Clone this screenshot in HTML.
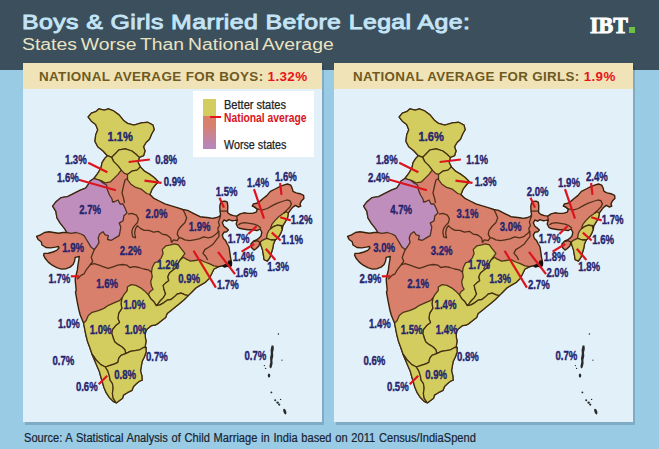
<!DOCTYPE html>
<html><head><meta charset="utf-8">
<style>
html,body{margin:0;padding:0;}
body{width:659px;height:449px;overflow:hidden;background:#9acbe5;font-family:"Liberation Sans",sans-serif;position:relative;}
.hdr{position:absolute;left:0;top:0;width:659px;height:70.3px;background:#3b4f5c;}
.t1{position:absolute;left:21.8px;top:9px;font-size:21px;font-weight:normal;-webkit-text-stroke:0.9px #c4e4f6;color:#c4e4f6;white-space:nowrap;line-height:26px;transform-origin:0 0;transform:scaleX(1.184);letter-spacing:0.35px;}
.t2{position:absolute;left:22.4px;top:35px;font-size:16px;color:#ebe2c2;white-space:nowrap;line-height:20px;transform-origin:0 0;transform:scaleX(1.21);word-spacing:-1.2px;}
.logo{position:absolute;left:590.3px;top:13px;font-family:"Liberation Serif",serif;font-weight:bold;font-size:22.5px;color:#fff;line-height:26px;white-space:nowrap;transform-origin:0 0;-webkit-text-stroke:1px #fff;transform:scaleX(0.975);}
.dot{position:absolute;left:629px;top:27.4px;width:6px;height:5.4px;background:#6fbf44;}
.panel{position:absolute;top:63px;width:299px;height:359px;background:#e2f0fa;box-shadow:2px 3px 0 0 rgba(0,20,40,0.17);}
.ph{position:absolute;left:0;top:0;width:299px;height:25.8px;background:#efe3b7;}
.ph span{position:absolute;top:5px;font-size:13.5px;letter-spacing:0.36px;font-weight:bold;color:#6f5a1f;white-space:nowrap;line-height:18px;transform-origin:0 0;}
.ph b{color:#e8141c;}
.src{position:absolute;left:23.8px;top:429.6px;font-size:12px;color:#18232f;-webkit-text-stroke:0.2px #18232f;white-space:nowrap;line-height:16px;transform-origin:0 0;transform:scaleX(0.925);word-spacing:0.7px;}
.legend{position:absolute;left:193px;top:91px;width:121px;height:66px;background:#fff;}
.bar{position:absolute;left:202.5px;top:98.5px;width:13px;height:50.5px;background:linear-gradient(to bottom,#d3cd5f 0,#d3cd5f 17px,#d9806d 17px,#d9806d 26px,#b886b7 46px,#b886b7 50.5px);}
.tick{position:absolute;left:210px;top:116px;width:11px;height:2px;background:#e8141c;}
.lg{position:absolute;left:224px;font-size:12px;line-height:14px;color:#222;white-space:nowrap;transform-origin:0 0;}
svg{position:absolute;left:0;top:0;}
svg text{font-family:"Liberation Sans",sans-serif;font-weight:bold;font-size:13px;fill:#26246e;stroke:#26246e;stroke-width:0.4px;}
.pt line{stroke:#dc141e;stroke-width:2.2;stroke-linecap:butt;}
</style></head><body>
<div class="hdr"></div>
<div class="t1" id="t1">Boys &amp; Girls Married Before Legal Age:</div>
<div class="t2" id="t2">States Worse Than National Average</div>
<div class="logo" id="logo">IBT</div><div class="dot"></div>
<div class="panel" style="left:23px"><div class="ph"><span id="h1" style="left:16.2px;transform:scaleX(0.995)">NATIONAL AVERAGE FOR BOYS: <b>1.32%</b></span></div></div>
<div class="panel" style="left:334px"><div class="ph"><span id="h2" style="left:18.5px;transform:scaleX(0.99)">NATIONAL AVERAGE FOR GIRLS: <b>1.9%</b></span></div></div>
<div class="legend"></div><div class="bar"></div><div class="tick"></div>
<div class="lg" id="lg1" style="top:97.6px;transform:scaleX(0.92);-webkit-text-stroke:0.25px #222">Better states</div>
<div class="lg" id="lg2" style="top:110.7px;color:#d8141c;font-weight:bold;transform:scaleX(0.86)">National average</div>
<div class="lg" id="lg3" style="top:137.5px;transform:scaleX(0.894);-webkit-text-stroke:0.25px #222">Worse states</div>
<svg width="659" height="449" viewBox="0 0 659 449">
<g>
<polygon points="94,178.5 97.8,173.3 101,168 102.1,162.7 104.8,158.4 107.4,155.7 103.1,151 97.8,146.7 95,141.4 95.7,135.1 97.8,129.7 95.7,124.4 91.4,121.2 88.2,117 91.4,113.2 95.7,111.7 98.9,108.9 104.2,110.2 108.4,108.9 113.7,111 119,114.9 123.3,120.2 127.5,123.4 133.9,125.1 141.4,122.9 147.7,122.3 153,125.1 154.1,129.7 151.6,134 149.4,139.3 146,142.5 143.5,146.7 145,151 143.5,155.7 139.2,157.4 138.2,162.7 140.3,166.9 144.5,171.2 149.9,174.4 154.1,177.5 158.3,181.8 155.2,185 152,189.2 149.9,194.5 153.5,198.1 159.2,201 164.9,203.8 170.6,205.7 177.2,207.6 182.9,209.5 187.6,210.4 193.3,213.3 199,216.1 200,216.7 204.5,217.3 208.9,217.8 212.2,218.4 215.6,217.8 218.9,216.7 220.6,215 220,211.1 219.8,206.1 220.6,202.8 222.3,201.5 225,201.1 227.3,202.2 227.8,206.1 227.6,211.1 227.8,212.8 230,214.5 233.4,215.6 236.7,216.1 240.1,213.9 244,212.8 247.9,213.4 252.3,213.4 256.2,212.2 257.3,209.5 255.1,207.2 252.3,206.1 253.4,203.9 256.8,203.3 260.1,201.1 263.4,198.3 266.8,195.6 270.4,191.4 275.1,189 279.7,186.7 283.6,185.1 287.5,184 290.7,185.1 292.2,188.3 293,191.4 296.1,192.9 300,193.7 303.6,195.3 303.9,198.4 301.6,200.7 300,203.9 300.8,206.2 298.5,207 295.3,205.4 292.2,207.8 289.9,210.9 288.3,213.2 287.5,217.9 285.2,221.8 282.9,225.7 282.1,229.8 280.5,233.7 278.2,237.6 275.1,240 273.5,243.9 272.7,248.5 271.2,253.2 269.6,257.9 267.3,261 264.1,259.5 263.4,254.8 262.6,250.1 261,245.4 260.2,242.3 258.7,246.2 256.3,248.5 254,250.1 251.7,247.8 250.9,243.9 253.2,241.5 256.3,240 258.7,238.4 261,236.1 261.8,232.2 260.2,229 257.1,230.6 252.4,229.8 247.8,229.8 243.1,229 239.2,228.3 237.8,227.3 236.2,223.9 237.3,220 235.1,220.4 232.3,220.8 228.9,219.7 226.7,221.2 223.9,220 222.3,222.8 223.9,226.2 226.7,228.4 228.4,230.1 226.7,231.7 223.9,232.3 222.3,235.1 223.4,238.4 225.6,240.6 227.3,244 229,247 229.8,252.4 230.6,257.9 231.4,261.8 230.6,265.7 224.4,266.5 225,265.1 218.6,266.7 213.9,269 211.6,273.7 209.2,278.4 205.3,282.3 199.9,285.4 196,287.8 192.1,291.7 188.2,295.6 184.3,299.5 179.6,303.4 174.9,307.3 171,310.4 167.1,313.5 165.6,317.4 161.7,320.5 157.8,323.6 155.4,325 151.4,325.6 147.5,328.7 145.2,331.8 145.2,336.5 146,341.2 145.2,346.6 146,347.5 146,352.2 144.4,356.8 142.1,361.5 141.3,366.2 140.5,370.9 141.8,375.6 142.1,380.2 139.7,381 136.6,383.4 133.5,386.5 131.9,390.4 127.3,392.7 123.4,395.1 122.6,398.2 119.5,400.5 116.3,402.9 113.2,401.3 109.3,397.4 106.2,392.7 103.9,387.3 102.3,381.8 100.7,376.3 99.2,370.9 96.8,365.4 94.5,360 92.2,354.5 89.8,347.5 87.5,341.2 85.9,335 83.6,323.2 80.2,315 78.7,309.2 77,300.7 75.5,292.2 76.2,290 75.6,284 75.2,279.3 76.2,274.6 77.4,269.9 77.7,266.8 78.5,261.8 79.3,256.5 75.2,257.4 74.6,260.9 73.1,264.5 70.1,267.1 66.2,268.7 61.5,269.1 56.8,267.6 52.2,265.2 48.3,262.1 45.1,258.2 43.6,255.1 44,253.4 48.3,253.2 52.9,252 56.8,250.3 59,248.1 58.4,246.5 55.3,247.1 50.6,247.9 45.9,247.5 42,245 41.2,241.8 38.1,239.5 36.6,236.4 40.5,234.8 44.4,232.5 49,231.7 53.7,232.5 58.4,233.3 63.1,232.5 67,232.5 64.4,228.4 60.2,223.1 57,217.8 55.9,211.4 52.7,206.1 55.9,201.9 61.2,197.6 67.6,196.6 74,193.4 80.4,190.2 85.7,188.1 88,184.9 90.1,181 94,178.5" fill="#d9806d" stroke="#38220a" stroke-width="1.4" stroke-linejoin="round"/>
<polygon points="88.2,117 91.4,113.2 95.7,111.7 98.9,108.9 104.2,110.2 108.4,108.9 113.7,111 119,114.9 123.3,120.2 127.5,123.4 133.9,125.1 141.4,122.9 147.7,122.3 153,125.1 154.1,129.7 151.6,134 149.4,139.3 146,142.5 143.5,146.7 145,151 143.5,155.7 139.2,157.4 136,154.2 131.8,151 125.4,148.9 119,149.9 114.8,154.2 111.6,157.4 107.4,155.7 103.1,151 97.8,146.7 95,141.4 95.7,135.1 97.8,129.7 95.7,124.4 91.4,121.2" fill="#d3cd5f" stroke="#38220a" stroke-width="1.3" stroke-opacity="0.85" stroke-linejoin="round"/>
<polygon points="111.6,157.4 114.8,154.2 119,149.9 125.4,148.9 131.8,151 136,154.2 139.2,157.4 138.2,162.7 140.3,166.9 137.1,170.1 131.8,171.2 127.5,174.4 124.4,173.3 121.2,170.1 118,165.9 113.7,161.6" fill="#d3cd5f" stroke="#38220a" stroke-width="1.3" stroke-opacity="0.85" stroke-linejoin="round"/>
<polygon points="111.6,157.4 113.7,161.6 118,165.9 121.2,170.1 118,174.4 113.7,178.6 110.5,181.8 105.2,182.9 101,180.7 94,178.5 97.8,173.3 101,168 102.1,162.7 104.8,158.4 107.4,155.7" fill="#d3cd5f" stroke="#38220a" stroke-width="1.3" stroke-opacity="0.85" stroke-linejoin="round"/>
<polygon points="127.5,174.4 131.8,171.2 137.1,170.1 140.3,166.9 144.5,171.2 149.9,174.4 154.1,177.5 158.3,181.8 155.2,185 152,189.2 149.9,194.5 146.7,193.5 141.4,189.2 135,187.1 130.7,183.9 127.5,179.7" fill="#d3cd5f" stroke="#38220a" stroke-width="1.3" stroke-opacity="0.85" stroke-linejoin="round"/>
<polygon points="162.2,249.6 166,245.8 170.7,244.9 174.5,243.9 178.3,244.9 181.1,248.7 184.9,253.4 180.4,259.7 178,263.6 176.5,267.5 172.6,270.6 169.5,272.9 167.9,276.8 168.7,280.7 165.6,283.1 163.2,285.4 164,289.3 165.6,294 163.2,297.9 160.1,301 157.8,304.1 156.2,305.7 153.9,301.8 150.7,298.7 148.4,294.8 150,291.7 153.1,289.3 151.5,286.2 150.7,281.5 152.3,276.8 151.5,272.2 152.3,267.5 154.6,262.8 157.4,261.9 161.2,258.1 163.1,253.4" fill="#d3cd5f" stroke="#38220a" stroke-width="1.3" stroke-opacity="0.85" stroke-linejoin="round"/>
<polygon points="180.4,259.7 183.5,257.3 185.8,258.9 190.5,261.2 195.2,260.5 199.9,259.7 204.6,262 209.2,263.6 213.9,265.9 218.6,266.7 213.9,269 211.6,273.7 209.2,278.4 205.3,282.3 199.9,285.4 196,287.8 192.1,291.7 188.2,295.6 185.1,294.8 181.2,293.2 177.3,294 174.1,297.1 171,299.5 167.1,300.2 164,302.6 160.1,304.9 156.2,305.7 157.8,304.1 160.1,301 163.2,297.9 165.6,294 164,289.3 163.2,285.4 165.6,283.1 168.7,280.7 167.9,276.8 169.5,272.9 172.6,270.6 176.5,267.5 178,263.6 180.4,259.7" fill="#d3cd5f" stroke="#38220a" stroke-width="1.3" stroke-opacity="0.85" stroke-linejoin="round"/>
<polygon points="121.8,298.3 124.1,294.4 127.3,290.5 127.3,287 131.2,284.6 135.9,285.4 140.6,287.8 144.5,290.9 148.4,294.8 150.7,298.7 153.9,301.8 156.2,305.7 160.1,304.9 164,302.6 167.1,300.2 171,299.5 174.1,297.1 177.3,294 181.2,293.2 185.1,294.8 188.2,295.6 184.3,299.5 179.6,303.4 174.9,307.3 171,310.4 167.1,313.5 165.6,317.4 161.7,320.5 157.8,323.6 155.4,325 151.4,325.6 147.5,328.7 145.2,331.8 145.2,336.5 146,341.2 145.2,346.6 146,347.5 143.6,347.5 139.7,349.8 135.1,350.6 130.4,351.4 125.7,353.7 124.9,349.8 121.8,346.7 117.9,344.4 114.8,342 113.2,338.1 112.4,335 111.7,333.4 112.4,329.5 115.6,325.6 119.5,322.4 117.9,318.5 118.7,313.1 121.8,308.4 121,303.7" fill="#d3cd5f" stroke="#38220a" stroke-width="1.3" stroke-opacity="0.85" stroke-linejoin="round"/>
<polygon points="121.8,298.3 121,303.7 121.8,308.4 118.7,313.1 117.9,318.5 119.5,322.4 115.6,325.6 112.4,329.5 111.7,333.4 112.4,335 113.2,338.1 114.8,342 117.9,344.4 121.8,346.7 124.9,349.8 125.7,353.7 121,355.3 118.7,358.4 117.9,362.3 114.8,363.9 110.1,365.4 105.4,367 100.7,364.6 96.1,360 92.2,354.5 89.8,347.5 87.5,341.2 85.9,335 83.6,323.2 85.9,320.9 88.3,315.4 92.2,312.3 98.4,310.7 103.9,308.4 108.5,305.3 114,302.9 119.5,300.6" fill="#d3cd5f" stroke="#38220a" stroke-width="1.3" stroke-opacity="0.85" stroke-linejoin="round"/>
<polygon points="92.2,354.5 96.1,360 100.7,364.6 105.4,367 107.8,370.9 109.3,375.6 110.1,380.2 112.4,383.4 113.2,388 112.4,393.5 113.2,398.2 115.9,402.4 113.2,401.3 109.3,397.4 106.2,392.7 103.9,387.3 102.3,381.8 100.7,376.3 99.2,370.9 96.8,365.4 94.5,360 92.2,354.5" fill="#d3cd5f" stroke="#38220a" stroke-width="1.3" stroke-opacity="0.85" stroke-linejoin="round"/>
<polygon points="105.4,367 105.4,367 110.1,365.4 114.8,363.9 117.9,362.3 118.7,358.4 121,355.3 125.7,353.7 130.4,351.4 135.1,350.6 139.7,349.8 143.6,347.5 146,347.5 146,352.2 144.4,356.8 142.1,361.5 141.3,366.2 140.5,370.9 141.8,375.6 142.1,380.2 139.7,381 136.6,383.4 133.5,386.5 131.9,390.4 127.3,392.7 123.4,395.1 122.6,398.2 119.5,400.5 116.3,402.9 115.9,402.4 113.2,398.2 112.4,393.5 113.2,388 112.4,383.4 110.1,380.2 109.3,375.6 107.8,370.9" fill="#d3cd5f" stroke="#38220a" stroke-width="1.3" stroke-opacity="0.85" stroke-linejoin="round"/>
<polygon points="283.6,213.2 286,211.7 288.3,213.2 287.5,217.9 285.2,221.8 282.9,225.7 277.4,225.1 273.5,226.6 270.4,229 271.9,224.3 275.1,220.4 279,216.5" fill="#d3cd5f" stroke="#38220a" stroke-width="1.3" stroke-opacity="0.85" stroke-linejoin="round"/>
<polygon points="270.4,229 273.5,226.7 277.4,225.1 281.3,225.9 282.1,229.8 280.5,233.7 278.2,237.6 275.1,240 271.2,240 266.5,238.4 267.3,233.7 268.8,230.6" fill="#d3cd5f" stroke="#38220a" stroke-width="1.3" stroke-opacity="0.85" stroke-linejoin="round"/>
<polygon points="261.8,240.7 266.5,238.4 271.2,240 275.1,240 273.5,243.9 272.7,248.5 271.2,253.2 269.6,257.9 267.3,261 264.1,259.5 263.4,254.8 262.6,250.1 261,245.4 260.2,242.3" fill="#d3cd5f" stroke="#38220a" stroke-width="1.3" stroke-opacity="0.85" stroke-linejoin="round"/>
<polygon points="94,178.5 100,180.5 103,183 106.5,185 107.5,190 109.5,195 112,199 112.5,202 115,201.5 118,200 120,204 123,204 125,208 127,213 123.9,215.7 123.1,220.8 119.2,223.1 120.8,227 120,231.7 119.2,235.6 115.3,237.9 111.4,240.3 107.5,239.5 108.3,235.6 105.2,234.8 102.9,231.7 99.7,234 98.2,237.9 99,242.6 96.6,246.5 94.3,249.6 91.2,247.3 88.8,243.4 86.5,239.5 84.1,235.6 81,234 76.3,232.5 70.9,233.3 67,232.5 64.4,228.4 60.2,223.1 57,217.8 55.9,211.4 52.7,206.1 55.9,201.9 61.2,197.6 67.6,196.6 74,193.4 80.4,190.2 85.7,188.1 88,184.9 90.1,181" fill="#bf8ebc" stroke="#38220a" stroke-width="1.3" stroke-opacity="0.85" stroke-linejoin="round"/>
<polyline points="128,178.3 125,180 123.5,186 122,193 123.5,198 124.5,203" fill="none" stroke="#38220a" stroke-width="1.3" stroke-opacity="0.85" stroke-linejoin="round"/>
<polyline points="128,214.2 131.8,213.3 136.5,215.2 138.4,218.9 137.4,222.7 134.6,225.6 132.7,228.4 131.8,232.2 132.7,236.9 135.6,237.9 134.6,233.1 135.6,228.4 137.4,225.6 140.3,228.4 144.1,230.3 148.8,230.3 153.5,232.2 158.3,231.3 162.1,234.1 166.8,235 170.6,237.9 171.5,242.6" fill="none" stroke="#38220a" stroke-width="1.3" stroke-opacity="0.85" stroke-linejoin="round"/>
<polyline points="182.9,209.5 184.8,213.3 186.7,218 184.8,222.7 181,226.5 178.1,230.3 177.2,234.1 179.1,237.9 177.2,240.7 173.4,239.8 171.5,242.6" fill="none" stroke="#38220a" stroke-width="1.3" stroke-opacity="0.85" stroke-linejoin="round"/>
<polyline points="179.1,237.9 181,237.9 184.8,239.8 189.5,240.7 194.2,239.8 199,238.8 203.7,236.9 208.4,237.9 212.2,236.9 216,234.1 218.8,231.3" fill="none" stroke="#38220a" stroke-width="1.3" stroke-opacity="0.85" stroke-linejoin="round"/>
<polyline points="220.6,216.1 219.5,218.9 218.4,222.3 219.5,225.6 217.8,228.4 218.4,231.7 218.8,231.3 219,236.4 216.1,240.1 213.3,243.9 209.5,246.8 204.8,249.6 202.9,253.4 205.7,256.2 207.6,260" fill="none" stroke="#38220a" stroke-width="1.3" stroke-opacity="0.85" stroke-linejoin="round"/>
<polyline points="94.3,249.6 92.7,253.5 91.2,257.4 92.7,261.3 90.4,264.5 88,267.6 85.7,270.7 84.1,273.8 81,275.4 78.7,277.7 77.1,279.3" fill="none" stroke="#38220a" stroke-width="1.3" stroke-opacity="0.85" stroke-linejoin="round"/>
<polyline points="90.4,264.5 94.3,263.7 99,265.2 103.6,266.8 108.3,268.4 113,266.8 117.7,265.2 122.4,264.5 127,265.2 129.7,267.5 134.4,266.7 139,267.5 143.7,269 148.4,269.8 151.5,272.2" fill="none" stroke="#38220a" stroke-width="1.3" stroke-opacity="0.85" stroke-linejoin="round"/>
<polyline points="220,211.1 227.6,211.1" fill="none" stroke="#38220a" stroke-width="1.3" stroke-opacity="0.85" stroke-linejoin="round"/>
<polyline points="236.7,216.1 237.3,220" fill="none" stroke="#38220a" stroke-width="1.3" stroke-opacity="0.85" stroke-linejoin="round"/>
<polyline points="252.4,205.4 256.3,208.5 261.8,210.1 267.3,208.5 272.7,205.4 277.4,203.1 282.1,201.5 286.8,200 289.9,200.7 291.4,203.9 289.9,207 286.8,210.1 283.6,213.2" fill="none" stroke="#38220a" stroke-width="1.3" stroke-opacity="0.85" stroke-linejoin="round"/>
<polyline points="238.4,224.9 240.7,223.4 244.6,222.6 249.3,223.4 254,224.1 257.9,225.7 261,228" fill="none" stroke="#38220a" stroke-width="1.3" stroke-opacity="0.85" stroke-linejoin="round"/>
<polyline points="253.2,241.5 257.1,240.7 260.2,242.3" fill="none" stroke="#38220a" stroke-width="1.3" stroke-opacity="0.85" stroke-linejoin="round"/>
<g fill="#2a2a2a" stroke="none">
<polygon points="222,266.5 224.5,264.5 227.5,263 228.5,260.5 231,260.2 232.3,262.5 232,266 230,267.5 227,267 224.5,267.8" fill="#111"/>
<circle cx="278.4" cy="334" r="0.8"/>
<path d="M271.8,345.2 L273.6,345.8 L273.8,349 L273,352.5 L273.3,356 L272.4,360 L272.6,363.5 L271.6,367.5 L270.2,368.5 L269.4,366.5 L270.3,362 L270,358 L270.8,354 L270.6,350 L271.2,347 Z"/>
<circle cx="281.9" cy="360.2" r="0.6"/>
<circle cx="264.4" cy="365.6" r="0.7"/><circle cx="265.6" cy="368.4" r="0.7"/>
<ellipse cx="269" cy="375.6" rx="1.2" ry="2.1"/>
<circle cx="271.4" cy="392.4" r="0.9"/>
<circle cx="275.2" cy="400.3" r="1"/><circle cx="277.6" cy="402.6" r="1.2"/><circle cx="279.2" cy="404.6" r="1.1"/><circle cx="280.6" cy="399.4" r="0.7"/>
<ellipse cx="284.8" cy="411.6" rx="1.4" ry="3" transform="rotate(-20 284.8 411.6)"/>
</g>
</g>
<g transform="translate(311,0)">
<polygon points="94,178.5 97.8,173.3 101,168 102.1,162.7 104.8,158.4 107.4,155.7 103.1,151 97.8,146.7 95,141.4 95.7,135.1 97.8,129.7 95.7,124.4 91.4,121.2 88.2,117 91.4,113.2 95.7,111.7 98.9,108.9 104.2,110.2 108.4,108.9 113.7,111 119,114.9 123.3,120.2 127.5,123.4 133.9,125.1 141.4,122.9 147.7,122.3 153,125.1 154.1,129.7 151.6,134 149.4,139.3 146,142.5 143.5,146.7 145,151 143.5,155.7 139.2,157.4 138.2,162.7 140.3,166.9 144.5,171.2 149.9,174.4 154.1,177.5 158.3,181.8 155.2,185 152,189.2 149.9,194.5 153.5,198.1 159.2,201 164.9,203.8 170.6,205.7 177.2,207.6 182.9,209.5 187.6,210.4 193.3,213.3 199,216.1 200,216.7 204.5,217.3 208.9,217.8 212.2,218.4 215.6,217.8 218.9,216.7 220.6,215 220,211.1 219.8,206.1 220.6,202.8 222.3,201.5 225,201.1 227.3,202.2 227.8,206.1 227.6,211.1 227.8,212.8 230,214.5 233.4,215.6 236.7,216.1 240.1,213.9 244,212.8 247.9,213.4 252.3,213.4 256.2,212.2 257.3,209.5 255.1,207.2 252.3,206.1 253.4,203.9 256.8,203.3 260.1,201.1 263.4,198.3 266.8,195.6 270.4,191.4 275.1,189 279.7,186.7 283.6,185.1 287.5,184 290.7,185.1 292.2,188.3 293,191.4 296.1,192.9 300,193.7 303.6,195.3 303.9,198.4 301.6,200.7 300,203.9 300.8,206.2 298.5,207 295.3,205.4 292.2,207.8 289.9,210.9 288.3,213.2 287.5,217.9 285.2,221.8 282.9,225.7 282.1,229.8 280.5,233.7 278.2,237.6 275.1,240 273.5,243.9 272.7,248.5 271.2,253.2 269.6,257.9 267.3,261 264.1,259.5 263.4,254.8 262.6,250.1 261,245.4 260.2,242.3 258.7,246.2 256.3,248.5 254,250.1 251.7,247.8 250.9,243.9 253.2,241.5 256.3,240 258.7,238.4 261,236.1 261.8,232.2 260.2,229 257.1,230.6 252.4,229.8 247.8,229.8 243.1,229 239.2,228.3 237.8,227.3 236.2,223.9 237.3,220 235.1,220.4 232.3,220.8 228.9,219.7 226.7,221.2 223.9,220 222.3,222.8 223.9,226.2 226.7,228.4 228.4,230.1 226.7,231.7 223.9,232.3 222.3,235.1 223.4,238.4 225.6,240.6 227.3,244 229,247 229.8,252.4 230.6,257.9 231.4,261.8 230.6,265.7 224.4,266.5 225,265.1 218.6,266.7 213.9,269 211.6,273.7 209.2,278.4 205.3,282.3 199.9,285.4 196,287.8 192.1,291.7 188.2,295.6 184.3,299.5 179.6,303.4 174.9,307.3 171,310.4 167.1,313.5 165.6,317.4 161.7,320.5 157.8,323.6 155.4,325 151.4,325.6 147.5,328.7 145.2,331.8 145.2,336.5 146,341.2 145.2,346.6 146,347.5 146,352.2 144.4,356.8 142.1,361.5 141.3,366.2 140.5,370.9 141.8,375.6 142.1,380.2 139.7,381 136.6,383.4 133.5,386.5 131.9,390.4 127.3,392.7 123.4,395.1 122.6,398.2 119.5,400.5 116.3,402.9 113.2,401.3 109.3,397.4 106.2,392.7 103.9,387.3 102.3,381.8 100.7,376.3 99.2,370.9 96.8,365.4 94.5,360 92.2,354.5 89.8,347.5 87.5,341.2 85.9,335 83.6,323.2 80.2,315 78.7,309.2 77,300.7 75.5,292.2 76.2,290 75.6,284 75.2,279.3 76.2,274.6 77.4,269.9 77.7,266.8 78.5,261.8 79.3,256.5 75.2,257.4 74.6,260.9 73.1,264.5 70.1,267.1 66.2,268.7 61.5,269.1 56.8,267.6 52.2,265.2 48.3,262.1 45.1,258.2 43.6,255.1 44,253.4 48.3,253.2 52.9,252 56.8,250.3 59,248.1 58.4,246.5 55.3,247.1 50.6,247.9 45.9,247.5 42,245 41.2,241.8 38.1,239.5 36.6,236.4 40.5,234.8 44.4,232.5 49,231.7 53.7,232.5 58.4,233.3 63.1,232.5 67,232.5 64.4,228.4 60.2,223.1 57,217.8 55.9,211.4 52.7,206.1 55.9,201.9 61.2,197.6 67.6,196.6 74,193.4 80.4,190.2 85.7,188.1 88,184.9 90.1,181 94,178.5" fill="#d9806d" stroke="#38220a" stroke-width="1.4" stroke-linejoin="round"/>
<polygon points="88.2,117 91.4,113.2 95.7,111.7 98.9,108.9 104.2,110.2 108.4,108.9 113.7,111 119,114.9 123.3,120.2 127.5,123.4 133.9,125.1 141.4,122.9 147.7,122.3 153,125.1 154.1,129.7 151.6,134 149.4,139.3 146,142.5 143.5,146.7 145,151 143.5,155.7 139.2,157.4 136,154.2 131.8,151 125.4,148.9 119,149.9 114.8,154.2 111.6,157.4 107.4,155.7 103.1,151 97.8,146.7 95,141.4 95.7,135.1 97.8,129.7 95.7,124.4 91.4,121.2" fill="#d3cd5f" stroke="#38220a" stroke-width="1.3" stroke-opacity="0.85" stroke-linejoin="round"/>
<polygon points="111.6,157.4 114.8,154.2 119,149.9 125.4,148.9 131.8,151 136,154.2 139.2,157.4 138.2,162.7 140.3,166.9 137.1,170.1 131.8,171.2 127.5,174.4 124.4,173.3 121.2,170.1 118,165.9 113.7,161.6" fill="#d3cd5f" stroke="#38220a" stroke-width="1.3" stroke-opacity="0.85" stroke-linejoin="round"/>
<polygon points="111.6,157.4 113.7,161.6 118,165.9 121.2,170.1 118,174.4 113.7,178.6 110.5,181.8 105.2,182.9 101,180.7 94,178.5 97.8,173.3 101,168 102.1,162.7 104.8,158.4 107.4,155.7" fill="#d3cd5f" stroke="#38220a" stroke-width="1.3" stroke-opacity="0.85" stroke-linejoin="round"/>
<polygon points="127.5,174.4 131.8,171.2 137.1,170.1 140.3,166.9 144.5,171.2 149.9,174.4 154.1,177.5 158.3,181.8 155.2,185 152,189.2 149.9,194.5 146.7,193.5 141.4,189.2 135,187.1 130.7,183.9 127.5,179.7" fill="#d3cd5f" stroke="#38220a" stroke-width="1.3" stroke-opacity="0.85" stroke-linejoin="round"/>
<polygon points="162.2,249.6 166,245.8 170.7,244.9 174.5,243.9 178.3,244.9 181.1,248.7 184.9,253.4 180.4,259.7 178,263.6 176.5,267.5 172.6,270.6 169.5,272.9 167.9,276.8 168.7,280.7 165.6,283.1 163.2,285.4 164,289.3 165.6,294 163.2,297.9 160.1,301 157.8,304.1 156.2,305.7 153.9,301.8 150.7,298.7 148.4,294.8 150,291.7 153.1,289.3 151.5,286.2 150.7,281.5 152.3,276.8 151.5,272.2 152.3,267.5 154.6,262.8 157.4,261.9 161.2,258.1 163.1,253.4" fill="#d3cd5f" stroke="#38220a" stroke-width="1.3" stroke-opacity="0.85" stroke-linejoin="round"/>
<polygon points="180.4,259.7 183.5,257.3 185.8,258.9 190.5,261.2 195.2,260.5 199.9,259.7 204.6,262 209.2,263.6 213.9,265.9 218.6,266.7 213.9,269 211.6,273.7 209.2,278.4 205.3,282.3 199.9,285.4 196,287.8 192.1,291.7 188.2,295.6 185.1,294.8 181.2,293.2 177.3,294 174.1,297.1 171,299.5 167.1,300.2 164,302.6 160.1,304.9 156.2,305.7 157.8,304.1 160.1,301 163.2,297.9 165.6,294 164,289.3 163.2,285.4 165.6,283.1 168.7,280.7 167.9,276.8 169.5,272.9 172.6,270.6 176.5,267.5 178,263.6 180.4,259.7" fill="#d3cd5f" stroke="#38220a" stroke-width="1.3" stroke-opacity="0.85" stroke-linejoin="round"/>
<polygon points="121.8,298.3 124.1,294.4 127.3,290.5 127.3,287 131.2,284.6 135.9,285.4 140.6,287.8 144.5,290.9 148.4,294.8 150.7,298.7 153.9,301.8 156.2,305.7 160.1,304.9 164,302.6 167.1,300.2 171,299.5 174.1,297.1 177.3,294 181.2,293.2 185.1,294.8 188.2,295.6 184.3,299.5 179.6,303.4 174.9,307.3 171,310.4 167.1,313.5 165.6,317.4 161.7,320.5 157.8,323.6 155.4,325 151.4,325.6 147.5,328.7 145.2,331.8 145.2,336.5 146,341.2 145.2,346.6 146,347.5 143.6,347.5 139.7,349.8 135.1,350.6 130.4,351.4 125.7,353.7 124.9,349.8 121.8,346.7 117.9,344.4 114.8,342 113.2,338.1 112.4,335 111.7,333.4 112.4,329.5 115.6,325.6 119.5,322.4 117.9,318.5 118.7,313.1 121.8,308.4 121,303.7" fill="#d3cd5f" stroke="#38220a" stroke-width="1.3" stroke-opacity="0.85" stroke-linejoin="round"/>
<polygon points="121.8,298.3 121,303.7 121.8,308.4 118.7,313.1 117.9,318.5 119.5,322.4 115.6,325.6 112.4,329.5 111.7,333.4 112.4,335 113.2,338.1 114.8,342 117.9,344.4 121.8,346.7 124.9,349.8 125.7,353.7 121,355.3 118.7,358.4 117.9,362.3 114.8,363.9 110.1,365.4 105.4,367 100.7,364.6 96.1,360 92.2,354.5 89.8,347.5 87.5,341.2 85.9,335 83.6,323.2 85.9,320.9 88.3,315.4 92.2,312.3 98.4,310.7 103.9,308.4 108.5,305.3 114,302.9 119.5,300.6" fill="#d3cd5f" stroke="#38220a" stroke-width="1.3" stroke-opacity="0.85" stroke-linejoin="round"/>
<polygon points="92.2,354.5 96.1,360 100.7,364.6 105.4,367 107.8,370.9 109.3,375.6 110.1,380.2 112.4,383.4 113.2,388 112.4,393.5 113.2,398.2 115.9,402.4 113.2,401.3 109.3,397.4 106.2,392.7 103.9,387.3 102.3,381.8 100.7,376.3 99.2,370.9 96.8,365.4 94.5,360 92.2,354.5" fill="#d3cd5f" stroke="#38220a" stroke-width="1.3" stroke-opacity="0.85" stroke-linejoin="round"/>
<polygon points="105.4,367 105.4,367 110.1,365.4 114.8,363.9 117.9,362.3 118.7,358.4 121,355.3 125.7,353.7 130.4,351.4 135.1,350.6 139.7,349.8 143.6,347.5 146,347.5 146,352.2 144.4,356.8 142.1,361.5 141.3,366.2 140.5,370.9 141.8,375.6 142.1,380.2 139.7,381 136.6,383.4 133.5,386.5 131.9,390.4 127.3,392.7 123.4,395.1 122.6,398.2 119.5,400.5 116.3,402.9 115.9,402.4 113.2,398.2 112.4,393.5 113.2,388 112.4,383.4 110.1,380.2 109.3,375.6 107.8,370.9" fill="#d3cd5f" stroke="#38220a" stroke-width="1.3" stroke-opacity="0.85" stroke-linejoin="round"/>
<polygon points="283.6,213.2 286,211.7 288.3,213.2 287.5,217.9 285.2,221.8 282.9,225.7 277.4,225.1 273.5,226.6 270.4,229 271.9,224.3 275.1,220.4 279,216.5" fill="#d3cd5f" stroke="#38220a" stroke-width="1.3" stroke-opacity="0.85" stroke-linejoin="round"/>
<polygon points="270.4,229 273.5,226.7 277.4,225.1 281.3,225.9 282.1,229.8 280.5,233.7 278.2,237.6 275.1,240 271.2,240 266.5,238.4 267.3,233.7 268.8,230.6" fill="#d3cd5f" stroke="#38220a" stroke-width="1.3" stroke-opacity="0.85" stroke-linejoin="round"/>
<polygon points="261.8,240.7 266.5,238.4 271.2,240 275.1,240 273.5,243.9 272.7,248.5 271.2,253.2 269.6,257.9 267.3,261 264.1,259.5 263.4,254.8 262.6,250.1 261,245.4 260.2,242.3" fill="#d3cd5f" stroke="#38220a" stroke-width="1.3" stroke-opacity="0.85" stroke-linejoin="round"/>
<polygon points="94,178.5 100,180.5 103,183 106.5,185 107.5,190 109.5,195 112,199 112.5,202 115,201.5 118,200 120,204 123,204 125,208 127,213 123.9,215.7 123.1,220.8 119.2,223.1 120.8,227 120,231.7 119.2,235.6 115.3,237.9 111.4,240.3 107.5,239.5 108.3,235.6 105.2,234.8 102.9,231.7 99.7,234 98.2,237.9 99,242.6 96.6,246.5 94.3,249.6 91.2,247.3 88.8,243.4 86.5,239.5 84.1,235.6 81,234 76.3,232.5 70.9,233.3 67,232.5 64.4,228.4 60.2,223.1 57,217.8 55.9,211.4 52.7,206.1 55.9,201.9 61.2,197.6 67.6,196.6 74,193.4 80.4,190.2 85.7,188.1 88,184.9 90.1,181" fill="#bf8ebc" stroke="#38220a" stroke-width="1.3" stroke-opacity="0.85" stroke-linejoin="round"/>
<polyline points="128,178.3 125,180 123.5,186 122,193 123.5,198 124.5,203" fill="none" stroke="#38220a" stroke-width="1.3" stroke-opacity="0.85" stroke-linejoin="round"/>
<polyline points="128,214.2 131.8,213.3 136.5,215.2 138.4,218.9 137.4,222.7 134.6,225.6 132.7,228.4 131.8,232.2 132.7,236.9 135.6,237.9 134.6,233.1 135.6,228.4 137.4,225.6 140.3,228.4 144.1,230.3 148.8,230.3 153.5,232.2 158.3,231.3 162.1,234.1 166.8,235 170.6,237.9 171.5,242.6" fill="none" stroke="#38220a" stroke-width="1.3" stroke-opacity="0.85" stroke-linejoin="round"/>
<polyline points="182.9,209.5 184.8,213.3 186.7,218 184.8,222.7 181,226.5 178.1,230.3 177.2,234.1 179.1,237.9 177.2,240.7 173.4,239.8 171.5,242.6" fill="none" stroke="#38220a" stroke-width="1.3" stroke-opacity="0.85" stroke-linejoin="round"/>
<polyline points="179.1,237.9 181,237.9 184.8,239.8 189.5,240.7 194.2,239.8 199,238.8 203.7,236.9 208.4,237.9 212.2,236.9 216,234.1 218.8,231.3" fill="none" stroke="#38220a" stroke-width="1.3" stroke-opacity="0.85" stroke-linejoin="round"/>
<polyline points="220.6,216.1 219.5,218.9 218.4,222.3 219.5,225.6 217.8,228.4 218.4,231.7 218.8,231.3 219,236.4 216.1,240.1 213.3,243.9 209.5,246.8 204.8,249.6 202.9,253.4 205.7,256.2 207.6,260" fill="none" stroke="#38220a" stroke-width="1.3" stroke-opacity="0.85" stroke-linejoin="round"/>
<polyline points="94.3,249.6 92.7,253.5 91.2,257.4 92.7,261.3 90.4,264.5 88,267.6 85.7,270.7 84.1,273.8 81,275.4 78.7,277.7 77.1,279.3" fill="none" stroke="#38220a" stroke-width="1.3" stroke-opacity="0.85" stroke-linejoin="round"/>
<polyline points="90.4,264.5 94.3,263.7 99,265.2 103.6,266.8 108.3,268.4 113,266.8 117.7,265.2 122.4,264.5 127,265.2 129.7,267.5 134.4,266.7 139,267.5 143.7,269 148.4,269.8 151.5,272.2" fill="none" stroke="#38220a" stroke-width="1.3" stroke-opacity="0.85" stroke-linejoin="round"/>
<polyline points="220,211.1 227.6,211.1" fill="none" stroke="#38220a" stroke-width="1.3" stroke-opacity="0.85" stroke-linejoin="round"/>
<polyline points="236.7,216.1 237.3,220" fill="none" stroke="#38220a" stroke-width="1.3" stroke-opacity="0.85" stroke-linejoin="round"/>
<polyline points="252.4,205.4 256.3,208.5 261.8,210.1 267.3,208.5 272.7,205.4 277.4,203.1 282.1,201.5 286.8,200 289.9,200.7 291.4,203.9 289.9,207 286.8,210.1 283.6,213.2" fill="none" stroke="#38220a" stroke-width="1.3" stroke-opacity="0.85" stroke-linejoin="round"/>
<polyline points="238.4,224.9 240.7,223.4 244.6,222.6 249.3,223.4 254,224.1 257.9,225.7 261,228" fill="none" stroke="#38220a" stroke-width="1.3" stroke-opacity="0.85" stroke-linejoin="round"/>
<polyline points="253.2,241.5 257.1,240.7 260.2,242.3" fill="none" stroke="#38220a" stroke-width="1.3" stroke-opacity="0.85" stroke-linejoin="round"/>
<g fill="#2a2a2a" stroke="none">
<polygon points="222,266.5 224.5,264.5 227.5,263 228.5,260.5 231,260.2 232.3,262.5 232,266 230,267.5 227,267 224.5,267.8" fill="#111"/>
<circle cx="278.4" cy="334" r="0.8"/>
<path d="M271.8,345.2 L273.6,345.8 L273.8,349 L273,352.5 L273.3,356 L272.4,360 L272.6,363.5 L271.6,367.5 L270.2,368.5 L269.4,366.5 L270.3,362 L270,358 L270.8,354 L270.6,350 L271.2,347 Z"/>
<circle cx="281.9" cy="360.2" r="0.6"/>
<circle cx="264.4" cy="365.6" r="0.7"/><circle cx="265.6" cy="368.4" r="0.7"/>
<ellipse cx="269" cy="375.6" rx="1.2" ry="2.1"/>
<circle cx="271.4" cy="392.4" r="0.9"/>
<circle cx="275.2" cy="400.3" r="1"/><circle cx="277.6" cy="402.6" r="1.2"/><circle cx="279.2" cy="404.6" r="1.1"/><circle cx="280.6" cy="399.4" r="0.7"/>
<ellipse cx="284.8" cy="411.6" rx="1.4" ry="3" transform="rotate(-20 284.8 411.6)"/>
</g>
</g>
<g class="pt"><line x1="88.2" y1="162.7" x2="107.4" y2="172.2"/>
<line x1="78.7" y1="179.7" x2="115.9" y2="190.3"/>
<line x1="128.6" y1="162" x2="149.9" y2="159.5"/>
<line x1="144.5" y1="180.7" x2="161.5" y2="182.9"/>
<line x1="70.8" y1="276.3" x2="79.3" y2="276.3"/>
<line x1="98.7" y1="384.2" x2="107.2" y2="375.7"/>
<line x1="219.5" y1="197.8" x2="224" y2="207.6"/>
<line x1="254" y1="189.1" x2="264" y2="218.7"/>
<line x1="280.1" y1="183" x2="281.5" y2="194.8"/>
<line x1="248.3" y1="234" x2="256.5" y2="226.2"/>
<line x1="241.6" y1="251.6" x2="254.2" y2="244"/>
<line x1="280.2" y1="217.3" x2="290.7" y2="220.4"/>
<line x1="271.8" y1="232.6" x2="280.7" y2="240.5"/>
<line x1="265.8" y1="248.8" x2="275.4" y2="260"/>
<line x1="193.6" y1="250.8" x2="215.9" y2="287.6"/>
<line x1="218" y1="251.9" x2="235" y2="274.2"/></g>
<g class="pt" transform="translate(311,0)"><line x1="88.2" y1="162.7" x2="107.4" y2="172.2"/>
<line x1="78.7" y1="179.7" x2="115.9" y2="190.3"/>
<line x1="128.6" y1="162" x2="149.9" y2="159.5"/>
<line x1="144.5" y1="180.7" x2="161.5" y2="182.9"/>
<line x1="70.8" y1="276.3" x2="79.3" y2="276.3"/>
<line x1="98.7" y1="384.2" x2="107.2" y2="375.7"/>
<line x1="219.5" y1="197.8" x2="224" y2="207.6"/>
<line x1="254" y1="189.1" x2="264" y2="218.7"/>
<line x1="280.1" y1="183" x2="281.5" y2="194.8"/>
<line x1="248.3" y1="234" x2="256.5" y2="226.2"/>
<line x1="241.6" y1="251.6" x2="254.2" y2="244"/>
<line x1="280.2" y1="217.3" x2="290.7" y2="220.4"/>
<line x1="271.8" y1="232.6" x2="280.7" y2="240.5"/>
<line x1="265.8" y1="248.8" x2="275.4" y2="260"/>
<line x1="193.6" y1="250.8" x2="215.9" y2="287.6"/>
<line x1="218" y1="251.9" x2="235" y2="274.2"/></g>
<g class="lb"><text x="107.6" y="141.1" textLength="25.3" lengthAdjust="spacingAndGlyphs" style="font-size:13.6px">1.1%</text>
<text x="64.9" y="164.1" textLength="21.8" lengthAdjust="spacingAndGlyphs">1.3%</text>
<text x="57" y="182" textLength="21.8" lengthAdjust="spacingAndGlyphs">1.6%</text>
<text x="155.2" y="164.1" textLength="21.8" lengthAdjust="spacingAndGlyphs">0.8%</text>
<text x="163.7" y="186.4" textLength="21.8" lengthAdjust="spacingAndGlyphs">0.9%</text>
<text x="79.3" y="214.4" textLength="21.8" lengthAdjust="spacingAndGlyphs">2.7%</text>
<text x="145.6" y="218.2" textLength="21.8" lengthAdjust="spacingAndGlyphs">2.0%</text>
<text x="62.3" y="251.7" textLength="21.8" lengthAdjust="spacingAndGlyphs">1.9%</text>
<text x="119.7" y="254.9" textLength="21.8" lengthAdjust="spacingAndGlyphs">2.2%</text>
<text x="48.5" y="283.1" textLength="21.8" lengthAdjust="spacingAndGlyphs">1.7%</text>
<text x="96.3" y="288" textLength="21.8" lengthAdjust="spacingAndGlyphs">1.6%</text>
<text x="157.2" y="268.8" textLength="21.8" lengthAdjust="spacingAndGlyphs">1.2%</text>
<text x="123.6" y="309.1" textLength="21.8" lengthAdjust="spacingAndGlyphs">1.0%</text>
<text x="89.7" y="334.1" textLength="21.8" lengthAdjust="spacingAndGlyphs">1.0%</text>
<text x="124.8" y="333.8" textLength="21.8" lengthAdjust="spacingAndGlyphs">1.0%</text>
<text x="58" y="328.3" textLength="21.8" lengthAdjust="spacingAndGlyphs">1.0%</text>
<text x="52.5" y="364.8" textLength="21.8" lengthAdjust="spacingAndGlyphs">0.7%</text>
<text x="146" y="361.1" textLength="21.8" lengthAdjust="spacingAndGlyphs">0.7%</text>
<text x="114.2" y="378.7" textLength="21.8" lengthAdjust="spacingAndGlyphs">0.8%</text>
<text x="75.9" y="391.4" textLength="21.8" lengthAdjust="spacingAndGlyphs">0.6%</text>
<text x="215.8" y="196.1" textLength="21.8" lengthAdjust="spacingAndGlyphs">1.5%</text>
<text x="247.1" y="186.8" textLength="21.8" lengthAdjust="spacingAndGlyphs">1.4%</text>
<text x="275" y="180.6" textLength="21.8" lengthAdjust="spacingAndGlyphs">1.6%</text>
<text x="188.8" y="230.9" textLength="21.8" lengthAdjust="spacingAndGlyphs">1.9%</text>
<text x="227.8" y="242.9" textLength="21.8" lengthAdjust="spacingAndGlyphs">1.7%</text>
<text x="232.8" y="261.2" textLength="21.8" lengthAdjust="spacingAndGlyphs">1.4%</text>
<text x="290.7" y="223.6" textLength="21.8" lengthAdjust="spacingAndGlyphs">1.2%</text>
<text x="281.3" y="243.9" textLength="21.8" lengthAdjust="spacingAndGlyphs">1.1%</text>
<text x="267.3" y="271.4" textLength="21.8" lengthAdjust="spacingAndGlyphs">1.3%</text>
<text x="235.4" y="277.3" textLength="21.8" lengthAdjust="spacingAndGlyphs">1.6%</text>
<text x="216.9" y="289.4" textLength="21.8" lengthAdjust="spacingAndGlyphs">1.7%</text>
<text x="178.3" y="282.6" textLength="21.8" lengthAdjust="spacingAndGlyphs">0.9%</text>
<text x="244.5" y="359.7" textLength="21.8" lengthAdjust="spacingAndGlyphs">0.7%</text></g>
<g class="lb" transform="translate(311,0)"><text x="107.6" y="141.1" textLength="25.3" lengthAdjust="spacingAndGlyphs" style="font-size:13.6px">1.6%</text>
<text x="64.9" y="164.1" textLength="21.8" lengthAdjust="spacingAndGlyphs">1.8%</text>
<text x="57" y="182" textLength="21.8" lengthAdjust="spacingAndGlyphs">2.4%</text>
<text x="155.2" y="164.1" textLength="21.8" lengthAdjust="spacingAndGlyphs">1.1%</text>
<text x="163.7" y="186.4" textLength="21.8" lengthAdjust="spacingAndGlyphs">1.3%</text>
<text x="79.3" y="214.4" textLength="21.8" lengthAdjust="spacingAndGlyphs">4.7%</text>
<text x="145.6" y="218.2" textLength="21.8" lengthAdjust="spacingAndGlyphs">3.1%</text>
<text x="62.3" y="251.7" textLength="21.8" lengthAdjust="spacingAndGlyphs">3.0%</text>
<text x="119.7" y="254.9" textLength="21.8" lengthAdjust="spacingAndGlyphs">3.2%</text>
<text x="48.5" y="283.1" textLength="21.8" lengthAdjust="spacingAndGlyphs">2.9%</text>
<text x="96.3" y="288" textLength="21.8" lengthAdjust="spacingAndGlyphs">2.1%</text>
<text x="157.2" y="268.8" textLength="21.8" lengthAdjust="spacingAndGlyphs">1.7%</text>
<text x="123.6" y="309.1" textLength="21.8" lengthAdjust="spacingAndGlyphs">1.4%</text>
<text x="89.7" y="334.1" textLength="21.8" lengthAdjust="spacingAndGlyphs">1.5%</text>
<text x="124.8" y="333.8" textLength="21.8" lengthAdjust="spacingAndGlyphs">1.4%</text>
<text x="58" y="328.3" textLength="21.8" lengthAdjust="spacingAndGlyphs">1.4%</text>
<text x="52.5" y="364.8" textLength="21.8" lengthAdjust="spacingAndGlyphs">0.6%</text>
<text x="146" y="361.1" textLength="21.8" lengthAdjust="spacingAndGlyphs">0.8%</text>
<text x="114.2" y="378.7" textLength="21.8" lengthAdjust="spacingAndGlyphs">0.9%</text>
<text x="75.9" y="391.4" textLength="21.8" lengthAdjust="spacingAndGlyphs">0.5%</text>
<text x="215.8" y="196.1" textLength="21.8" lengthAdjust="spacingAndGlyphs">2.0%</text>
<text x="247.1" y="186.8" textLength="21.8" lengthAdjust="spacingAndGlyphs">1.9%</text>
<text x="275" y="180.6" textLength="21.8" lengthAdjust="spacingAndGlyphs">2.4%</text>
<text x="188.8" y="230.9" textLength="21.8" lengthAdjust="spacingAndGlyphs">3.0%</text>
<text x="227.8" y="242.9" textLength="21.8" lengthAdjust="spacingAndGlyphs">1.7%</text>
<text x="232.8" y="261.2" textLength="21.8" lengthAdjust="spacingAndGlyphs">1.8%</text>
<text x="290.7" y="223.6" textLength="21.8" lengthAdjust="spacingAndGlyphs">1.7%</text>
<text x="281.3" y="243.9" textLength="21.8" lengthAdjust="spacingAndGlyphs">1.6%</text>
<text x="267.3" y="271.4" textLength="21.8" lengthAdjust="spacingAndGlyphs">1.8%</text>
<text x="235.4" y="277.3" textLength="21.8" lengthAdjust="spacingAndGlyphs">2.0%</text>
<text x="216.9" y="289.4" textLength="21.8" lengthAdjust="spacingAndGlyphs">2.7%</text>
<text x="178.3" y="282.6" textLength="21.8" lengthAdjust="spacingAndGlyphs">1.3%</text>
<text x="244.5" y="359.7" textLength="21.8" lengthAdjust="spacingAndGlyphs">0.7%</text></g>
</svg>
<div class="src" id="src">Source: A Statistical Analysis of Child Marriage in India based on 2011 Census/IndiaSpend</div>
</body></html>
